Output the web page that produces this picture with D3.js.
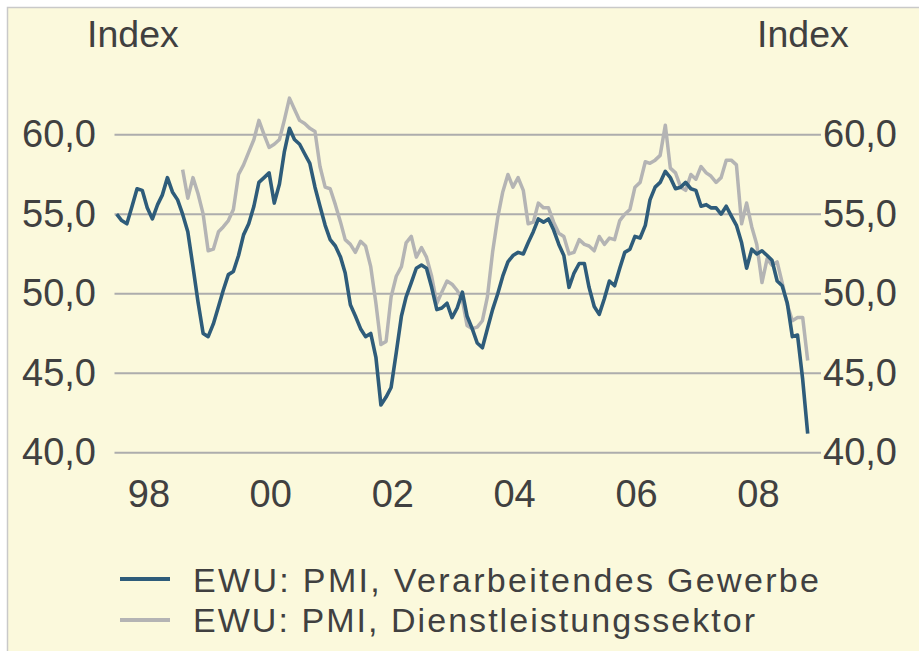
<!DOCTYPE html>
<html>
<head>
<meta charset="utf-8">
<script src="https://cdn.jsdelivr.net/npm/d3@7"></script>
<style>
  html, body { margin: 0; padding: 0; background: #ffffff; }
  svg { display: block; }
  text { font-family: "Liberation Sans", Arial, sans-serif; fill: #404040; }
</style>
</head>
<body>
<svg id="chart" width="919" height="651"></svg>
<script>
// ---- Data (monthly, EWU PMI) ----
const startManufacturing = [1997, 5]; // June 1997 (month index 0-based)
const startServices = [1998, 6];      // July 1998
const manufacturing = [
  55.0, 54.6, 54.4, 55.5, 56.6, 56.5, 55.4, 54.7, 55.6, 56.2,
  57.3, 56.4, 55.9, 55.0, 53.9, 51.7, 49.5, 47.5, 47.3, 48.1,
  49.2, 50.2, 51.2, 51.4, 52.4, 53.7, 54.4, 55.5, 57.0, 57.3,
  57.6, 55.7, 56.9, 58.9, 60.4, 59.7, 59.4, 58.8, 58.2, 56.7,
  55.5, 54.3, 53.4, 53.0, 52.3, 51.3, 49.3, 48.6, 47.8, 47.3,
  47.5, 46.0, 43.0, 43.5, 44.1, 46.3, 48.6, 49.8, 50.7, 51.6,
  51.8, 51.6, 50.4, 49.0, 49.1, 49.4, 48.5, 49.1, 50.1, 48.6,
  47.8, 46.9, 46.6, 47.8, 49.0, 50.0, 51.1, 52.0, 52.4, 52.6,
  52.5, 53.2, 53.9, 54.7, 54.5, 54.7, 54.0, 53.1, 52.4, 50.4,
  51.3, 51.9, 51.9, 50.4, 49.2, 48.7, 49.7, 50.8, 50.5, 51.6,
  52.6, 52.8, 53.6, 53.5, 54.3, 55.9, 56.7, 57.0, 57.7, 57.3,
  56.6, 56.7, 57.0, 56.6, 56.5, 55.5, 55.6, 55.4, 55.4, 55.0,
  55.5, 54.9, 54.3, 53.2, 51.6, 52.8, 52.5, 52.7, 52.4, 52.1,
  50.8, 50.5, 49.4, 47.3, 47.4, 44.6, 41.2
];
const services = [
  57.8, 56.0, 57.3, 56.3, 55.0, 52.7, 52.8,
  53.9, 54.2, 54.6, 55.3, 57.5, 58.1, 58.9, 59.7, 60.9, 60.0,
  59.2, 59.4, 59.7, 60.9, 62.3, 61.6, 60.9, 60.7, 60.4, 60.2,
  58.0, 56.7, 56.6, 55.6, 54.5, 53.4, 53.1, 52.6, 53.3, 53.0,
  51.7, 49.4, 46.8, 47.0, 49.8, 51.1, 51.7, 53.2, 53.6, 52.3,
  52.9, 52.3, 51.1, 49.4, 50.1, 50.8, 50.6, 50.2, 49.6, 48.0,
  47.8, 47.9, 48.3, 49.8, 52.6, 54.8, 56.4, 57.5, 56.7, 57.3,
  56.5, 54.4, 54.5, 55.7, 55.4, 55.4, 54.5, 53.8, 53.6, 52.5,
  52.6, 53.4, 53.1, 53.0, 52.7, 53.6, 53.1, 53.5, 53.4, 54.6,
  55.0, 55.3, 56.7, 57.0, 58.3, 58.2, 58.4, 58.7, 60.6, 57.9,
  57.6, 56.7, 56.5, 57.5, 57.2, 58.0, 57.6, 57.4, 57.0, 57.3,
  58.4, 58.4, 58.1, 54.4, 55.7, 54.2, 53.1, 50.7, 52.2, 51.8,
  52.0, 50.7, 49.3, 48.3, 48.5, 48.5, 45.8
];
const yTicks = [40, 45, 50, 55, 60];
const xTickYears = [1998, 2000, 2002, 2004, 2006, 2008];
const axisTitle = "Index";
const seriesNames = ["EWU: PMI, Verarbeitendes Gewerbe", "EWU: PMI, Dienstleistungssektor"];
const seriesColors = ["#2E5C7A", "#B4B4B4"];

// ---- Build dated series ----
function toSeries(start, values) {
  return values.map((v, i) => ({ date: new Date(start[0], start[1] + i, 1), value: v }));
}
const mfg = toSeries(startManufacturing, manufacturing);
const srv = toSeries(startServices, services);

const svg = d3.select("#chart");

// background panel
svg.append("rect").attr("x", 0).attr("y", 0).attr("width", 919).attr("height", 651).attr("fill", "#ffffff");
svg.append("rect").attr("x", 7.5).attr("y", 7.5).attr("width", 1000).attr("height", 1000)
  .attr("fill", "#FBF9DC").attr("stroke", "#C9C9C9").attr("stroke-width", 1.5);

// scales
const x = d3.scaleTime()
  .domain([mfg[0].date, mfg[mfg.length - 1].date])
  .range([116.7, 807.7]);
const y = d3.scaleLinear().domain([40, 60]).range([452.7, 134.7]);

const de = d3.formatLocale({ decimal: ",", thousands: ".", grouping: [3], currency: ["", " €"] });
const fmt = de.format(".1f");

// gridlines
svg.append("g").selectAll("line").data(yTicks).join("line")
  .attr("x1", 114.5).attr("x2", 821)
  .attr("y1", d => y(d)).attr("y2", d => y(d))
  .attr("stroke", "#ADADAD").attr("stroke-width", 2);

// left axis labels
const leftAxis = svg.append("g").attr("transform", "translate(96,0)")
  .call(d3.axisLeft(y).tickValues(yTicks).tickSize(0).tickPadding(0).tickFormat(fmt));
// right axis labels
const rightAxis = svg.append("g").attr("transform", "translate(823,0)")
  .call(d3.axisRight(y).tickValues(yTicks).tickSize(0).tickPadding(0).tickFormat(fmt));
// bottom axis labels
const bottomAxis = svg.append("g").attr("transform", "translate(-4,480)")
  .call(d3.axisBottom(x).tickValues(xTickYears.map(yr => new Date(yr, 0, 1)))
    .tickSize(0).tickPadding(0).tickFormat(d3.timeFormat("%y")));

[leftAxis, rightAxis, bottomAxis].forEach(g => {
  g.select(".domain").remove();
  g.selectAll("text").attr("font-size", 38).attr("fill", "#404040")
    .style("font-family", "'Liberation Sans', Arial, sans-serif");
});

// axis titles
svg.append("text").attr("x", 87).attr("y", 47).attr("font-size", 37.5).text(axisTitle);
svg.append("text").attr("x", 757).attr("y", 47).attr("font-size", 37.5).text(axisTitle);

// lines
const line = d3.line().x(d => x(d.date)).y(d => y(d.value));
svg.append("path").datum(srv).attr("d", line)
  .attr("fill", "none").attr("stroke", seriesColors[1]).attr("stroke-width", 3.5)
  .attr("stroke-linejoin", "round");
svg.append("path").datum(mfg).attr("d", line)
  .attr("fill", "none").attr("stroke", seriesColors[0]).attr("stroke-width", 3.6)
  .attr("stroke-linejoin", "round");

// legend
const legendRows = [
  { name: seriesNames[0], color: seriesColors[0], ly: 579, ty: 592, len: 626 },
  { name: seriesNames[1], color: seriesColors[1], ly: 620, ty: 632, len: 562 }
];
const lg = svg.append("g");
legendRows.forEach(r => {
  lg.append("line").attr("x1", 120).attr("x2", 170).attr("y1", r.ly).attr("y2", r.ly)
    .attr("stroke", r.color).attr("stroke-width", 4);
  lg.append("text").attr("x", 193).attr("y", r.ty).attr("font-size", 34)
    .attr("textLength", r.len).attr("lengthAdjust", "spacing").text(r.name);
});
</script>
</body>
</html>
